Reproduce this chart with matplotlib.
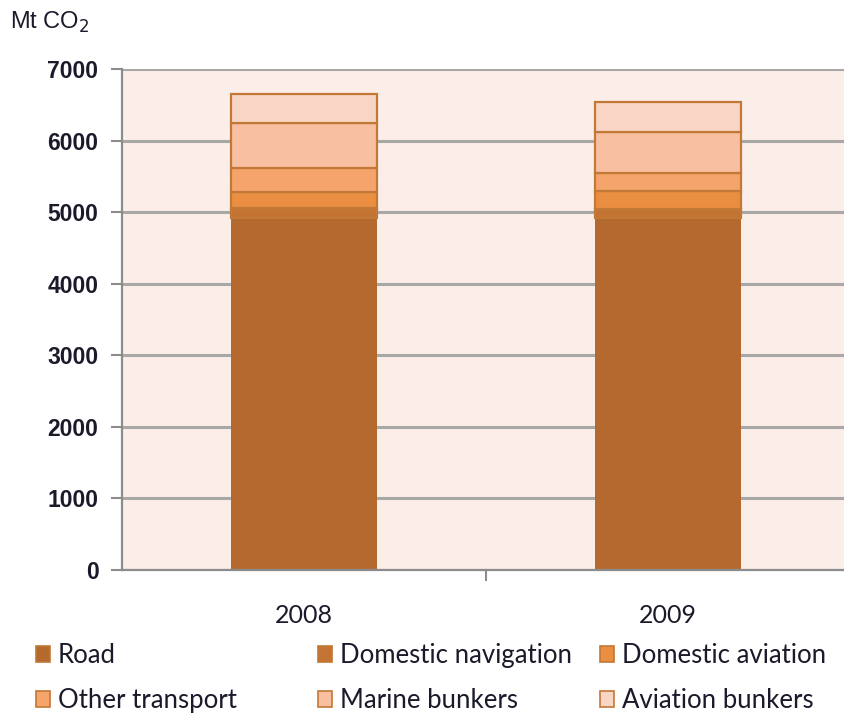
import numpy as np
import matplotlib.pyplot as plt
from matplotlib.patches import Patch

years = ['2008', '2009']
road = [4915, 4915]
domestic_navigation = [140, 125]
domestic_aviation = [225, 260]
other_transport = [335, 245]
marine_bunkers = [630, 575]
aviation_bunkers = [405, 415]

series = [
    ('Road', road, '#B46A2F'),
    ('Domestic navigation', domestic_navigation, '#C47432'),
    ('Domestic aviation', domestic_aviation, '#EA8F42'),
    ('Other transport', other_transport, '#F5A56C'),
    ('Marine bunkers', marine_bunkers, '#F8BFA0'),
    ('Aviation bunkers', aviation_bunkers, '#F9D5C5'),
]
edge = '#C27836'
txt = '#1A1A2A'

fig = plt.figure(figsize=(8.44, 7.15), dpi=100)
ax = fig.add_axes([122 / 844, 1 - 570 / 715, 1 - 122 / 844, (570 - 69) / 715])
ax.set_facecolor('#FBEDE8')

x = np.arange(len(years))
bottom = np.zeros(len(years))
for name, vals, col in series:
    lw = 0 if name == 'Road' else 1.6
    ax.bar(x, vals, width=0.40, bottom=bottom, color=col, edgecolor=edge if lw else col,
           linewidth=lw, zorder=3)
    bottom += np.array(vals)

ax.set_ylim(0, 7000)
ax.set_yticks(range(0, 7001, 1000))
ax.set_xlim(-0.5, -0.5 + 722 / 364)
ax.yaxis.grid(True, color='#A8A8A8', linewidth=2.2, zorder=0)
ax.set_axisbelow(True)

# category separator tick only
ax.set_xticks([0.5])
ax.set_xticklabels([])
ax.tick_params(axis='x', length=8, color='#8C8C8C', width=1.5)
for xi, yr in zip(x, years):
    ax.text(xi, -0.09, yr, transform=ax.get_xaxis_transform(), ha='center', va='center',
            fontsize=18, family='Lato', color=txt)

ax.tick_params(axis='y', length=8, color='#8C8C8C', width=1.5, pad=9)
for lab in ax.get_yticklabels():
    lab.set_fontsize(16.5)
    lab.set_fontweight('bold')
    lab.set_family('Liberation Sans')
    lab.set_color(txt)

for s in ['top', 'right']:
    ax.spines[s].set_visible(False)
for s in ['left', 'bottom']:
    ax.spines[s].set_color('#8C8C8C')
    ax.spines[s].set_linewidth(1.6)
ax.spines['bottom'].set_zorder(4)

fig.text(10 / 844, 1 - 22 / 715, 'Mt CO$_2$', fontsize=17, family='Liberation Sans',
         va='center', ha='left', color=txt)

# legend: three columns placed at fixed positions, two rows each
handles = [Patch(facecolor=c, edgecolor=edge, linewidth=1.2, label=n) for n, v, c in series]
col_x = [36, 318, 600]
for j in range(3):
    idx = [j, j + 3]
    leg = fig.legend([handles[i] for i in idx], [series[i][0] for i in idx],
                     loc='upper left', bbox_to_anchor=(col_x[j] / 844, 1 - 643 / 715),
                     frameon=False, handlelength=0.55, handleheight=0.55,
                     handletextpad=0.3, labelspacing=0.78, borderpad=0,
                     borderaxespad=0, prop={'family': 'Lato', 'size': 18.5})
    for t in leg.get_texts():
        t.set_color(txt)

fig.savefig('out.png', dpi=100)
